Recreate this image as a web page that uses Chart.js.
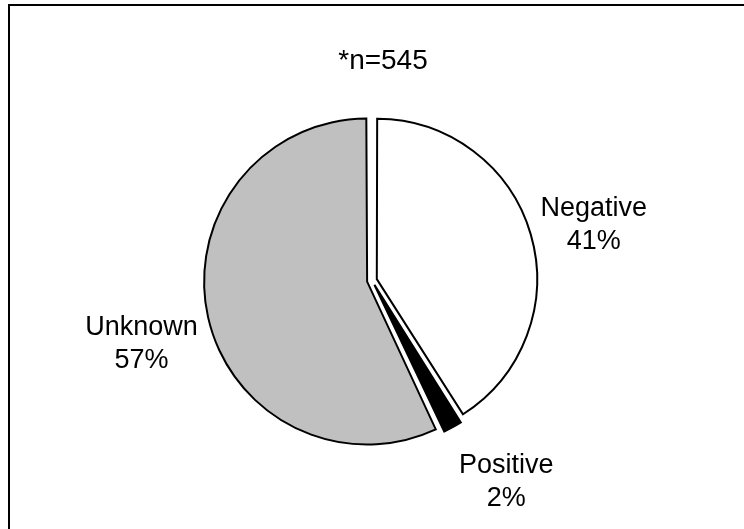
<!DOCTYPE html>
<html>
<head>
<meta charset="utf-8">
<script src="https://cdn.jsdelivr.net/npm/chart.js@4/dist/chart.umd.min.js"></script>
<style>
  html, body { margin: 0; padding: 0; background: #ffffff; overflow: hidden; }
  #wrap { position: relative; width: 744px; height: 529px; }
  canvas { display: block; }
</style>
</head>
<body>
<div id="wrap"><canvas id="c" width="744" height="529"></canvas></div>
<script>
// Test result breakdown
const categories = ['Negative', 'Positive', 'Unknown'];
const percents = [41, 2, 57];
const sliceColors = ['#ffffff', '#000000', '#c0c0c0'];
const sampleNote = '*n=545';

// label placement: distance (in radii) and small angular nudge (degrees) from the slice middle
const labelReach = [1.45, 1.52, 1.51];
const labelTurn = [1.6, -5.2, -2.4];
const FONT = '27px "Liberation Sans", Arial, sans-serif';

const labelPlugin = {
  id: 'sliceLabels',
  afterDraw(chart) {
    const ctx = chart.ctx;
    ctx.save();
    // outer frame
    ctx.strokeStyle = '#000';
    ctx.lineWidth = 2;
    ctx.beginPath();
    ctx.moveTo(9, 540);
    ctx.lineTo(9, 5);
    ctx.lineTo(760, 5);
    ctx.stroke();

    ctx.fillStyle = '#000';
    ctx.textAlign = 'center';
    ctx.textBaseline = 'middle';
    ctx.font = '28px "Liberation Sans", Arial, sans-serif';
    ctx.fillText(sampleNote, 383, 61);

    ctx.font = FONT;
    const meta = chart.getDatasetMeta(0);
    meta.data.forEach((arc, i) => {
      const p = arc.getProps(['x', 'y', 'startAngle', 'endAngle', 'outerRadius'], true);
      const mid = (p.startAngle + p.endAngle) / 2 + labelTurn[i] * Math.PI / 180;
      const r = p.outerRadius * labelReach[i];
      const lx = p.x + Math.cos(mid) * r;
      const ly = p.y + Math.sin(mid) * r;
      ctx.fillText(categories[i], lx, ly - 14.5);
      ctx.fillText(percents[i] + '%', lx, ly + 18.5);
    });
    ctx.restore();
  }
};

new Chart(document.getElementById('c'), {
  type: 'pie',
  data: {
    labels: categories,
    datasets: [{
      data: percents,
      backgroundColor: sliceColors,
      borderColor: '#000000',
      borderWidth: 2,
      hoverBorderWidth: 2,
      offset: 20,
      hoverOffset: 20,
      borderJoinStyle: 'miter'
    }]
  },
  options: {
    responsive: false,
    animation: false,
    events: [],
    radius: 158,
    layout: { padding: { top: 115, bottom: 83, left: 172, right: 172 } },
    plugins: {
      legend: { display: false },
      tooltip: { enabled: false },
      title: { display: false }
    }
  },
  plugins: [labelPlugin]
});
</script>
</body>
</html>
